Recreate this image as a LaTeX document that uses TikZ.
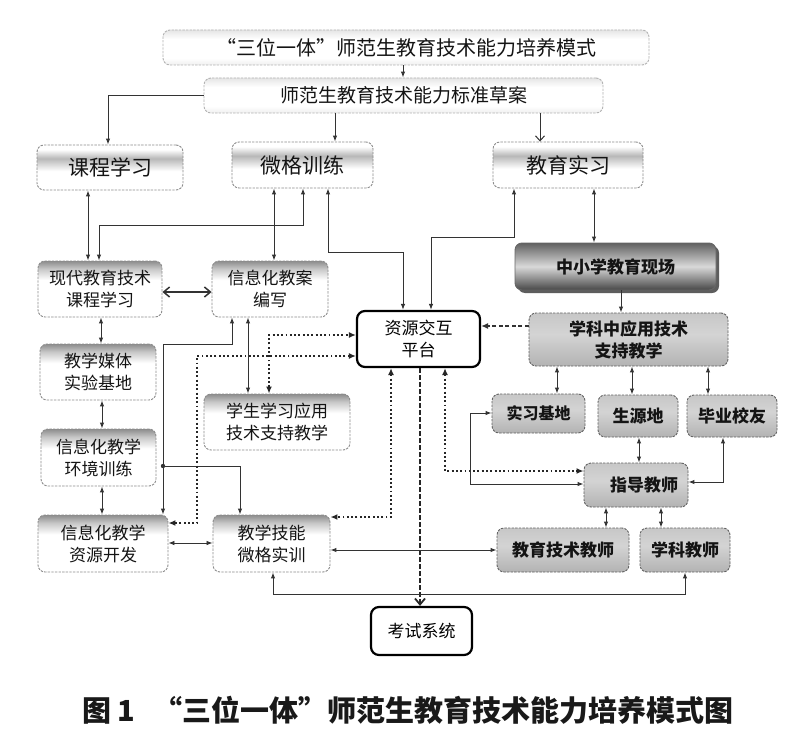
\documentclass[tikz,border=0pt]{standalone}
\usepackage{fontspec}
\setmainfont{Noto Sans CJK SC}
\usetikzlibrary{arrows.meta,shadows}
\pgfdeclareverticalshading{topfade}{100bp}{color(0bp)=(white); color(25bp)=(white); color(58bp)=(white); color(68bp)=(black!22); color(75bp)=(black!45); color(100bp)=(black!45)}
\pgfdeclareverticalshading{bandfill}{100bp}{color(0bp)=(white); color(25bp)=(white); color(46bp)=(white); color(60bp)=(black!28); color(70bp)=(white); color(100bp)=(white)}
\pgfdeclareverticalshading{grayfill}{100bp}{color(0bp)=(black!30); color(25bp)=(black!30); color(55bp)=(black!17); color(75bp)=(black!22); color(100bp)=(black!22)}
\pgfdeclareverticalshading{darkfill}{100bp}{color(0bp)=(black!72); color(25bp)=(black!72); color(50bp)=(black!15); color(75bp)=(black!62); color(100bp)=(black!62)}
\pgfdeclareverticalshading{faintfill}{100bp}{color(0bp)=(black!6); color(25bp)=(black!6); color(35bp)=(white); color(62bp)=(white); color(75bp)=(black!10); color(100bp)=(black!10)}
\newcommand\fsz[2]{\fontsize{#1}{#2}\selectfont}
\tikzset{
  boxbase/.style={rounded corners=7pt, inner sep=0pt, align=center, text=black!92,
    draw=black!45, line width=0.9pt, dash pattern=on 2.4pt off 1.2pt, font=\fsz{17}{22}},
  wbox/.style={boxbase, shade, shading=topfade},
  topbox/.style={boxbase, shade, shading=bandfill, font=\fsz{21}{24}},
  headbox/.style={boxbase, shade, shading=faintfill, draw=black!30},
  gbox/.style={boxbase, draw=black!62, shade, shading=grayfill, font=\fsz{17}{22}\bfseries},
  darkbox/.style={boxbase, solid, draw=black!60, shade, shading=darkfill, font=\fsz{17}{22}\bfseries,
    drop shadow={shadow xshift=3pt, shadow yshift=-3pt, fill=black!70, opacity=0.9}},
  hubbox/.style={rounded corners=8pt, inner sep=0pt, align=center, draw=black, line width=2.2pt,
    fill=white, font=\fsz{17}{22}},
  conn/.style={draw=black!80, line width=1pt},
  arr/.style={conn, -{Latex[length=6pt,width=4.5pt]}},
  dbl/.style={conn, {Latex[length=6pt,width=4.5pt]}-{Latex[length=6pt,width=4.5pt]}},
  dotl/.style={draw=black!85, line width=2.2pt, dash pattern=on 1.9pt off 2.4pt,
    {Latex[length=7pt,width=6pt]}-{Latex[length=7pt,width=6pt]}},
}
\begin{document}
\begin{tikzpicture}[x=1pt,y=-1pt]
\fill[white] (0,0) rectangle (805,733);
\useasboundingbox (0,0) rectangle (805,733);

% ---- nodes ----
\node[headbox, minimum width=486pt, minimum height=35pt, font=\fsz{20}{24}] (title) at (406,47.5) {“三位一体”师范生教育技术能力培养模式};
\node[headbox, minimum width=399pt, minimum height=35pt, font=\fsz{19}{22}] (std) at (403.5,95.5) {师范生教育技术能力标准草案};
\node[topbox, minimum width=146pt, minimum height=45pt] (kc) at (110,167.5) {课程学习};
\node[topbox, minimum width=141pt, minimum height=46pt] (wg) at (302.5,165) {微格训练};
\node[topbox, minimum width=150pt, minimum height=46pt] (jy) at (568,165) {教育实习};

\node[wbox, minimum width=124pt, minimum height=56pt] (xd) at (100,289) {现代教育技术\\课程学习};
\node[wbox, minimum width=116pt, minimum height=56pt] (ja) at (270,289) {信息化教案\\编写};
\node[hubbox, minimum width=123pt, minimum height=56pt] (zy) at (418.5,339) {资源交互\\平台};
\node[darkbox, minimum width=201pt, minimum height=47pt] (zx) at (615.5,266.5) {中小学教育现场};
\node[gbox, minimum width=199pt, minimum height=53pt] (xk) at (628.5,339.5) {学科中应用技术\\支持教学};
\node[wbox, minimum width=116pt, minimum height=56pt] (mt) at (98,372) {教学媒体\\实验基地};
\node[wbox, minimum width=146pt, minimum height=56pt] (xs) at (277,422) {学生学习应用\\技术支持教学};
\node[gbox, minimum width=93pt, minimum height=39pt, font=\fsz{16}{20}\bfseries] (sx) at (538.5,413.5) {实习基地};
\node[gbox, minimum width=80pt, minimum height=42pt] (sy) at (638,416) {生源地};
\node[gbox, minimum width=90pt, minimum height=42pt] (by) at (732,416) {毕业校友};
\node[wbox, minimum width=115pt, minimum height=57pt] (hj) at (98.5,457.5) {信息化教学\\环境训练};
\node[gbox, minimum width=104pt, minimum height=44pt] (zd) at (636,485) {\hspace{16pt}指导教师};
\node[wbox, minimum width=130pt, minimum height=57pt] (kf) at (103,543.5) {信息化教学\\资源开发};
\node[wbox, minimum width=117pt, minimum height=57pt] (jn) at (271.5,543.5) {教学技能\\微格实训};
\node[gbox, minimum width=132pt, minimum height=44pt] (jj) at (563,550) {教育技术教师};
\node[gbox, minimum width=90pt, minimum height=44pt] (xj) at (685,550) {学科教师};
\node[hubbox, minimum width=101pt, minimum height=48pt] (ks) at (421.5,631) {考试系统};

\node[font=\fsz{29}{33}\bfseries, text=black!90] (cap) at (408,710) {图 1\hspace{18pt}“三位一体”师范生教育技术能力培养模式图};

% ---- connectors ----
\draw[arr] (403,0 |- title.south) -- (403,0 |- std.north);
\draw[arr] (std.west) -| (108,0 |- kc.north);
\draw[arr] (335,0 |- std.south) -- (335,0 |- wg.north);
\draw[conn, -{Straight Barb[length=5pt,width=9pt]}] (540,0 |- std.south) -- (540,0 |- jy.north);

\draw[dbl] (88,0 |- kc.south) -- (88,0 |- xd.north);
\draw[dbl] (303,0 |- wg.south) -- (303,225) -- (99,225) -- (99,0 |- xd.north);
\draw[dbl] (274,0 |- wg.south) -- (274,0 |- ja.north);
\draw[dbl] (328,0 |- wg.south) -- (328,252) -- (403,252) -- (403,0 |- zy.north);
\draw[dbl] (514,0 |- jy.south) -- (514,237) -- (431,237) -- (431,0 |- zy.north);
\draw[dbl] (594,0 |- jy.south) -- (594,0 |- zx.north);
\draw[arr] (621,0 |- zx.south) -- (621,0 |- xk.north);
\draw[conn, line width=1.3pt, dash pattern=on 4pt off 2.5pt, -{Latex[length=7pt,width=6pt]}] (xk.west |- 0,326) -- (zy.east |- 0,326);
\draw[dbl] (557,0 |- xk.south) -- (557,0 |- sx.north);
\draw[dbl] (632,0 |- xk.south) -- (632,0 |- sy.north);
\draw[dbl] (708,0 |- xk.south) -- (708,0 |- by.north);

\draw[conn, line width=1.5pt, {Straight Barb[length=6pt,width=10pt]}-{Straight Barb[length=6pt,width=10pt]}] (xd.east |- 0,292) -- (ja.west |- 0,292);
\draw[dbl] (101,0 |- xd.south) -- (101,0 |- mt.north);
\draw[dbl] (102,0 |- mt.south) -- (102,0 |- hj.north);
\draw[dbl] (102,0 |- hj.south) -- (102,0 |- kf.north);

\draw[dbl] (232,0 |- ja.south) -- (232,344) -- (163,344) -- (163,0 |- kf.north);
\coordinate (jt) at (163,466);
\fill[black!80] (jt) circle (2.2pt);
\draw[arr] (jt) -- (240,466) -- (240,0 |- jn.north);
\draw[dbl] (248,0 |- ja.south) -- (248,0 |- xs.north);
\draw[dotl] (269,0 |- xs.north) -- (269,335) -- (zy.west |- 0,335);
\draw[dotl] (zy.west |- 0,356) -- (197,356) -- (197,523) -- (kf.east |- 0,523);
\draw[conn, line width=0.8pt, {Latex[length=6pt,width=4.5pt]}-{Latex[length=6pt,width=4.5pt]}] (kf.east |- 0,543) -- (jn.west |- 0,543);
\draw[dotl] (391,0 |- zy.south) -- (391,517) -- (jn.east |- 0,517);
\draw[draw=black!85, line width=1.8pt, dash pattern=on 5pt off 2pt, -{Straight Barb[length=6pt,width=10pt]}] (420,0 |- zy.south) -- (420,0 |- ks.north);
\draw[dotl] (445,0 |- zy.south) -- (445,471) -- (zd.west |- 0,471);
\draw[dbl] (zd.west |- 0,484) -- (470,484) -- (470,413) -- (sx.west |- 0,413);
\draw[dbl] (639,0 |- zd.north) -- (639,0 |- sy.south);
\draw[dbl] (zd.east |- 0,482) -- (723,482) -- (723,0 |- by.south);
\draw[dbl] (606,0 |- zd.south) -- (606,0 |- jj.north);
\draw[dbl] (661,0 |- zd.south) -- (661,0 |- xj.north);
\draw[dbl] (jn.east |- 0,550) -- (jj.west |- 0,550);
\draw[dbl] (273,0 |- jn.south) -- (273,594) -- (685,594) -- (685,0 |- xj.south);
\end{tikzpicture}
\end{document}
